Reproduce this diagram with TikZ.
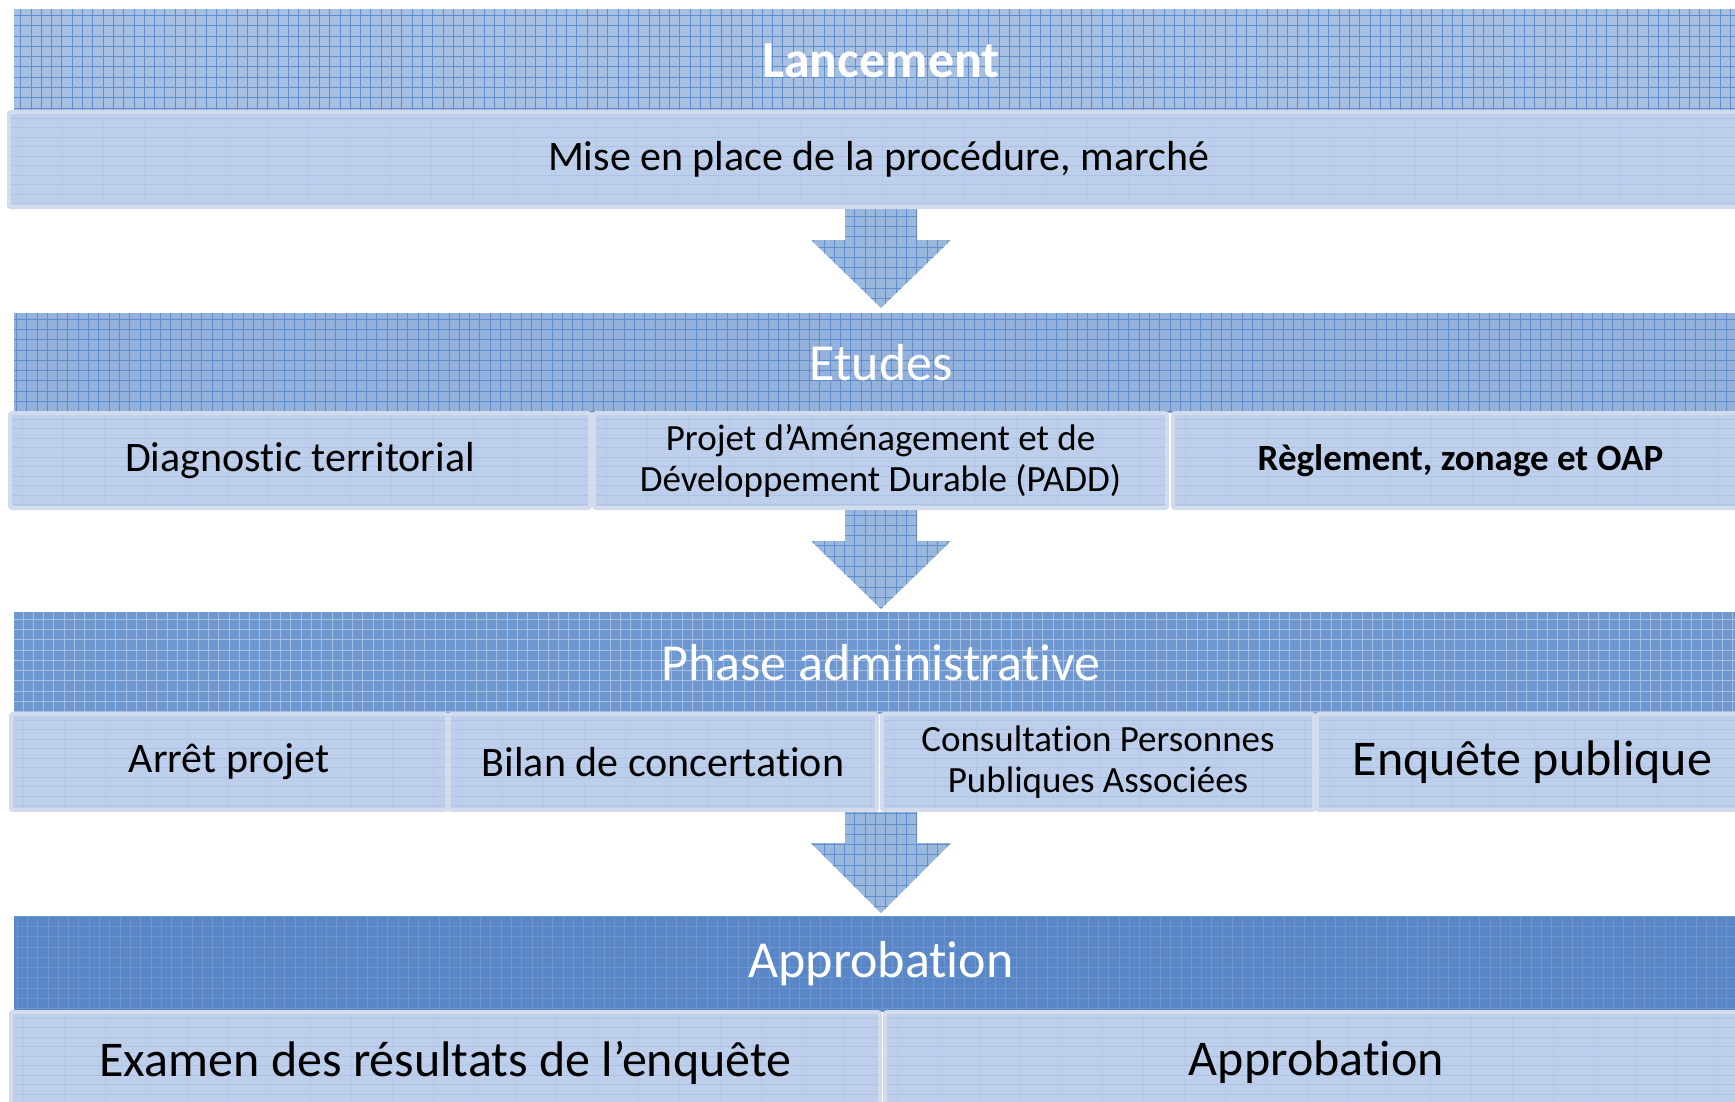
\documentclass[tikz,border=0pt]{standalone}
\usepackage{fontspec}
\setmainfont[Ligatures={NoCommon}]{Carlito}
\usetikzlibrary{calc}
\definecolor{hdrA}{HTML}{A7C0E2}
\definecolor{hdrAl}{HTML}{5F8FCF}
\definecolor{hdrB}{HTML}{93B1DB}
\definecolor{hdrBl}{HTML}{5E8DCE}
\definecolor{hdrC}{HTML}{6F98D0}
\definecolor{hdrCl}{HTML}{A5BFE3}
\definecolor{hdrD}{HTML}{5886C6}
\definecolor{hdrDl}{HTML}{6B95CE}
\definecolor{subF}{HTML}{BDCFEA}
\definecolor{subL}{HTML}{ADC3E5}
\definecolor{subB}{HTML}{D3DCEC}
\definecolor{arrF}{HTML}{9AB7DE}
\definecolor{arrL}{HTML}{5F8FCF}
\begin{document}
\begin{tikzpicture}[x=1pt,y=-1pt,
  hdr/.style={rectangle, inner sep=0pt, text=white, minimum width=1734pt},
  hgrid/.style={path picture={\draw[step=10.3pt, #1, line width=0.9pt]
      (path picture bounding box.south west) grid (path picture bounding box.north east);}},
  subbox/.style={rectangle, inner sep=0pt, fill=subF, draw=subB, line width=4pt, rounded corners=2pt, text=black, align=center,
      path picture={
        \foreach \k in {0,...,11} {\draw[subL, line width=0.8pt] ($(path picture bounding box.north west)+(0,6+9.5*\k)$) -- ++(2000,0);}
        \foreach \k in {0,...,45} {\draw[subL!60!subF, line width=0.8pt] ($(path picture bounding box.north west)+(12+41*\k,0)$) -- ++(0,120);}
      }},
  arrowbody/.style={fill=arrF, path picture={\draw[step=10.3pt, arrL, line width=0.9pt]
      (path picture bounding box.south west) grid (path picture bounding box.north east);}},
  hfont/.style={font=\fontsize{52}{60}\selectfont},
  sfont/.style={font=\fontsize{42}{48}\selectfont},
  tfont/.style={font=\fontsize{37}{41}\selectfont},
  lfont/.style={font=\fontsize{50}{56}\selectfont}
]
\useasboundingbox (0,0) rectangle (1735,1101);
\clip (0,0) rectangle (1735,1101);

% ---- Lancement
\node[hdr, hfont, fill=hdrA, hgrid=hdrAl, minimum height=103pt] (lanc) at (881,60.5) {\bfseries Lancement};
\node[subbox, sfont, minimum width=1739pt, minimum height=95pt] (mise) at (878.5,159.5) {Mise en place de la procédure, marché};

% ---- Etudes
\node[hdr, hfont, fill=hdrB, hgrid=hdrBl, minimum height=100pt] (etud) at (881,363) {Etudes};
\node[subbox, sfont, minimum width=580pt, minimum height=95pt] (diag) at (300,460.5) {Diagnostic territorial};
\node[subbox, tfont, minimum width=573pt, minimum height=95pt] (padd) at (880.5,460.5) {Projet d’Aménagement et de\\Développement Durable (PADD)};
\node[subbox, tfont, minimum width=575pt, minimum height=95pt] (regl) at (1460.5,460.5) {\bfseries Règlement, zonage et OAP};

% ---- Phase administrative
\node[hdr, hfont, fill=hdrC, hgrid=hdrCl, minimum height=102pt] (phase) at (881,663) {Phase administrative};
\node[subbox, sfont, minimum width=436pt, minimum height=96pt] (arret) at (229,762) {\raisebox{-2pt}{Arrêt projet}};
\node[subbox, sfont, minimum width=428pt, minimum height=96pt] (bilan) at (663,762) {Bilan de concertation};
\node[subbox, tfont, minimum width=432pt, minimum height=96pt] (cons) at (1098,762) {Consultation Personnes\\Publiques Associées};
\node[subbox, lfont, minimum width=431pt, minimum height=96pt] (enq) at (1532.5,762) {Enquête publique};

% ---- Approbation
\node[hdr, hfont, fill=hdrD, hgrid=hdrDl, minimum height=96pt] (appr) at (881,964) {Approbation};
\node[subbox, lfont, minimum width=869pt, minimum height=101pt] (exam) at (445.5,1062.5) {Examen des résultats de l’enquête};
\node[subbox, lfont, minimum width=863pt, minimum height=101pt] (appro) at (1316.5,1062.5) {Approbation};

% ---- Arrows between stages
\coordinate (a1) at (881,209);
\coordinate (a2) at (881,510);
\coordinate (a3) at (881,812);
\foreach \a/\len in {a1/99, a2/99, a3/101} {
  \path[arrowbody] ($(\a)+(-36,0)$) -- ($(\a)+(36,0)$) -- ($(\a)+(36,31)$) -- ($(\a)+(70,31)$)
     -- ($(\a)+(0,\len)$) -- ($(\a)+(-70,31)$) -- ($(\a)+(-36,31)$) -- cycle;
}
\end{tikzpicture}
\end{document}
